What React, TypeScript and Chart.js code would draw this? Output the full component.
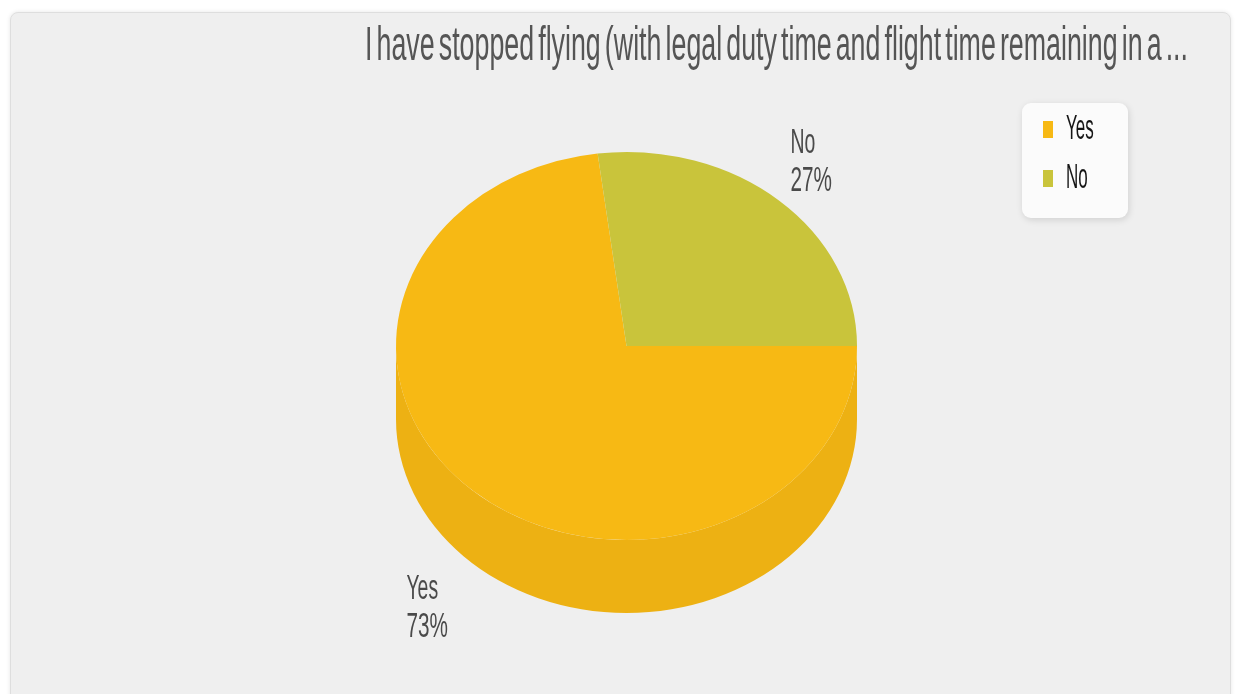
import React, { useEffect, useRef } from 'react';
import { Chart, registerables } from 'chart.js';

Chart.register(...registerables);

// ---- data ----
const TITLE = 'I have stopped flying (with legal duty time and flight time remaining in a ...';
const categories = ['Yes', 'No'];
const values = [73, 27];
const sliceColors = ['#f7b914', '#c9c43b'];

// ---- look ----
const TILT = 0.8417; // vertical squash of the pie top face
const DEPTH = 73; // px thickness of the pie side
const FAMILY = '"Liberation Sans", Arial, sans-serif';

function shade(hex: string, f: number): string {
  const n = parseInt(hex.slice(1), 16);
  const r = Math.round(((n >> 16) & 255) * f);
  const g = Math.round(((n >> 8) & 255) * f);
  const b = Math.round((n & 255) * f);
  return `rgb(${r},${g},${b})`;
}

function drawText(
  ctx: CanvasRenderingContext2D,
  text: string,
  x: number,
  baseline: number,
  size: number,
  sx: number,
  sy: number,
  color: string,
  wordSpacing = '0px'
) {
  ctx.save();
  ctx.translate(x, baseline);
  ctx.scale(sx, sy);
  ctx.font = `normal ${size}px ${FAMILY}`;
  (ctx as any).wordSpacing = wordSpacing;
  ctx.fillStyle = color;
  ctx.textAlign = 'left';
  ctx.textBaseline = 'alphabetic';
  ctx.fillText(text, 0, 0);
  ctx.restore();
}

function measure(ctx: CanvasRenderingContext2D, text: string, size: number, wordSpacing = '0px') {
  ctx.save();
  ctx.font = `normal ${size}px ${FAMILY}`;
  (ctx as any).wordSpacing = wordSpacing;
  const w = ctx.measureText(text).width;
  ctx.restore();
  return w;
}

const pie3d = {
  id: 'pie3d',
  beforeDatasetsDraw(chart: any) {
    const meta = chart.getDatasetMeta(0);
    const ctx: CanvasRenderingContext2D = chart.ctx;
    const first = meta.data[0];
    const { x, y, outerRadius } = first.getProps(['x', 'y', 'outerRadius'], true);
    const rx = outerRadius;
    const ry = outerRadius * TILT;
    const colors = chart.data.datasets[0].backgroundColor;
    const TAU = Math.PI * 2;
    meta.data.forEach((arc: any, i: number) => {
      const { startAngle, endAngle } = arc.getProps(['startAngle', 'endAngle'], true);
      for (const k of [-1, 0, 1]) {
        const s = Math.max(startAngle + k * TAU, 0);
        const e = Math.min(endAngle + k * TAU, Math.PI);
        if (e - s > 1e-4) {
          ctx.save();
          ctx.beginPath();
          ctx.ellipse(x, y, rx, ry, 0, s, e, false);
          ctx.ellipse(x, y + DEPTH, rx, ry, 0, e, s, true);
          ctx.closePath();
          ctx.fillStyle = shade(colors[i], 0.958);
          ctx.fill();
          ctx.restore();
        }
      }
    });
    ctx.save();
    ctx.translate(x, y);
    ctx.scale(1, TILT);
    ctx.translate(-x, -y);
  },
  afterDatasetsDraw(chart: any) {
    chart.ctx.restore();
  },
};

const decorations = {
  id: 'decorations',
  afterDraw(chart: any) {
    const ctx: CanvasRenderingContext2D = chart.ctx;
    // title
    const tSize = 24;
    const ws = '-3px';
    const tW = measure(ctx, TITLE, tSize, ws);
    drawText(ctx, TITLE, 365, 60, tSize, 823 / tW, 34 / (0.716 * tSize), '#555555', ws);

    // slice labels
    const meta = chart.getDatasetMeta(0);
    const ds = chart.data.datasets[0];
    const total = ds.data.reduce((a: number, b: number) => a + b, 0);
    const lSize = 18;
    const lSy = 25 / (0.716 * lSize);
    meta.data.forEach((arc: any, i: number) => {
      const { x, y, outerRadius, startAngle, endAngle } = arc.getProps(
        ['x', 'y', 'outerRadius', 'startAngle', 'endAngle'],
        true
      );
      const mid = (startAngle + endAngle) / 2;
      const cx = x + 1.26 * outerRadius * Math.cos(mid);
      const cy = y + 1.28 * outerRadius * TILT * Math.sin(mid) + (Math.sin(mid) > 0 ? DEPTH : 0);
      const lines = [String(chart.data.labels[i]), Math.round((ds.data[i] / total) * 100) + '%'];
      const left = cx - 28;
      drawText(ctx, lines[0], left, cy - 6.5, lSize, 1.08, lSy, '#4a4a4a');
      drawText(ctx, lines[1], left, cy + 31.5, lSize, 1.15, lSy, '#4a4a4a');
    });

    // legend box
    const bx = 1022, by = 103, bw = 106, bh = 115;
    ctx.save();
    ctx.shadowColor = 'rgba(0,0,0,0.13)';
    ctx.shadowBlur = 7;
    ctx.shadowOffsetX = 1;
    ctx.shadowOffsetY = 2;
    ctx.beginPath();
    ctx.roundRect(bx, by, bw, bh, 9);
    ctx.fillStyle = '#fbfbfb';
    ctx.fill();
    ctx.restore();
    const gSize = 17;
    const gSy = 25 / (0.716 * gSize);
    (chart.data.labels as string[]).forEach((lab, i) => {
      const base = 139 + i * 49;
      ctx.fillStyle = ds.backgroundColor[i];
      ctx.fillRect(1043, base - 18, 10, 17);
      drawText(ctx, lab, 1066, base, gSize, 1, gSy, '#151515');
    });
  },
};

export default function App() {
  const ref = useRef<HTMLCanvasElement | null>(null);
  useEffect(() => {
    if (!ref.current) return;
    const chart = new Chart(ref.current, {
      type: 'pie',
      data: {
        labels: categories,
        datasets: [
          {
            data: values,
            backgroundColor: sliceColors,
            borderWidth: 0,
            radius: 230.5,
            clip: false,
          } as any,
        ],
      },
      options: {
        responsive: false,
        animation: false,
        events: [],
        rotation: 90,
        layout: { padding: { left: 100, right: 82, top: 100, bottom: 102 } },
        plugins: {
          legend: { display: false },
          title: { display: false },
          tooltip: { enabled: false },
        },
      },
      plugins: [pie3d, decorations],
    });
    return () => chart.destroy();
  }, []);

  return (
    <div>
      <div
        style={{
          position: 'fixed',
          left: 10,
          top: 12,
          width: 1221,
          height: 720,
          background: '#efefef',
          border: '1px solid #dedede',
          borderRadius: 8,
          boxShadow: '0 0 4px rgba(0,0,0,0.10)',
          boxSizing: 'border-box',
        }}
      />
      <canvas
        ref={ref}
        width={1235}
        height={694}
        style={{ position: 'fixed', left: 0, top: 0, width: 1235, height: 694 }}
      />
    </div>
  );
}
